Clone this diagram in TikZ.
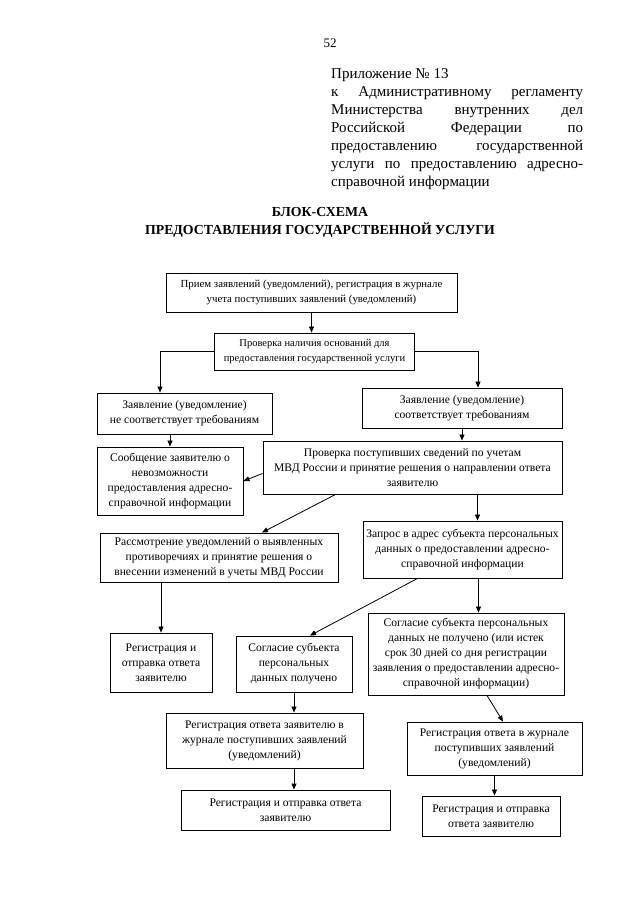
\documentclass[tikz,border=0pt]{standalone}
\usepackage{fontspec}
\setmainfont{Liberation Serif}
\usetikzlibrary{arrows.meta,calc}
\begin{document}
\begin{tikzpicture}[x=1pt,y=-1pt,
  box/.style={draw, line width=0.9pt, align=center, inner sep=1pt,
    font=\fontsize{11.6}{15}\selectfont},
  arr/.style={-{Triangle[length=6pt,width=5pt]}, line width=0.8pt},
  plain/.style={inner sep=0pt}]
\useasboundingbox (0,0) rectangle (640,905);
\fill[white] (0,0) rectangle (640,905);

% page number and header
\node[plain, font=\fontsize{13}{15}\selectfont] (pnum) at (330,43) {52};
\node[plain, anchor=north west, align=left, font=\fontsize{15}{18}\selectfont] (appx) at (331,68)
 {Приложение № 13\\
  \makebox[252pt][s]{к Административному регламенту}\\
  \makebox[252pt][s]{Министерства внутренних дел}\\
  \makebox[252pt][s]{Российской Федерации по}\\
  \makebox[252pt][s]{предоставлению государственной}\\
  \makebox[252pt][s]{услуги по предоставлению адресно-}\\
  справочной информации};
\node[plain, align=center, font=\bfseries\fontsize{13.8}{18}\selectfont] (title) at (320,222)
 {БЛОК-СХЕМА\\ПРЕДОСТАВЛЕНИЯ ГОСУДАРСТВЕННОЙ УСЛУГИ};

% boxes
\node[box, minimum width=291, minimum height=39, font=\fontsize{10.8}{15}\selectfont] (b1) at (311.5,292.5)
 {Прием заявлений (уведомлений), регистрация в журнале\\учета поступивших заявлений (уведомлений)};
\node[box, minimum width=200, minimum height=37, font=\fontsize{10.5}{15}\selectfont] (b2) at (314.5,351.5)
 {Проверка наличия оснований для\\предоставления государственной услуги};
\node[box, minimum width=175, minimum height=41] (b3L) at (184.5,413.5)
 {Заявление (уведомление)\\не соответствует требованиям};
\node[box, minimum width=200, minimum height=40] (b3R) at (462,408)
 {Заявление (уведомление)\\соответствует требованиям};
\node[box, minimum width=146, minimum height=68] (b4L) at (170,481)
 {Сообщение заявителю о\\невозможности\\предоставления адресно-\\справочной информации};
\node[box, minimum width=299, minimum height=53] (b4R) at (412.5,467.5)
 {Проверка поступивших сведений по учетам\\МВД России и принятие решения о направлении ответа\\заявителю};
\node[box, minimum width=238, minimum height=49] (b5L) at (219,557.5)
 {Рассмотрение уведомлений о выявленных\\противоречиях и принятие решения о\\внесении изменений в учеты МВД России};
\node[box, minimum width=199, minimum height=57] (b5R) at (462.5,549.5)
 {Запрос в адрес субъекта персональных\\данных о предоставлении адресно-\\справочной информации};
\node[box, minimum width=102, minimum height=59] (b6a) at (161,662.5)
 {Регистрация и\\отправка ответа\\заявителю};
\node[box, minimum width=116, minimum height=56] (b6b) at (294,664)
 {Согласие субъекта\\персональных\\данных получено};
\node[box, minimum width=196, minimum height=82] (b6c) at (466,654)
 {Согласие субъекта персональных\\данных не получено (или истек\\срок 30 дней со дня регистрации\\заявления о предоставлении адресно-\\справочной информации)};
\node[box, minimum width=197, minimum height=55] (b7L) at (264.5,740.5)
 {Регистрация ответа заявителю в\\журнале поступивших заявлений\\(уведомлений)};
\node[box, minimum width=175, minimum height=53] (b7R) at (494.5,748.5)
 {Регистрация ответа в журнале\\поступивших заявлений\\(уведомлений)};
\node[box, minimum width=209, minimum height=40] (b8L) at (285.5,810)
 {Регистрация и отправка ответа\\заявителю};
\node[box, minimum width=138, minimum height=40] (b8R) at (491,816)
 {Регистрация и отправка\\ответа заявителю};

% helper coordinates
\coordinate (c2L) at ($(b3L.north)+(-24.5,0)$);
\coordinate (c2R) at ($(b3R.north)+(16,0)$);
\coordinate (c45) at ($(b4R.south)+(65,0)$);
\coordinate (c56) at ($(b5R.south)+(16,0)$);

% connectors
\draw[arr] (b1.south) -- (b1.south |- b2.north);
\draw[arr] (b2.west) -| (c2L);
\draw[arr] (b2.east) -| (c2R);
\draw[arr] (b3L.south -| b4L.north) -- (b4L.north);
\draw[arr] (b3R.south) -- (b3R.south |- b4R.north);
\draw[arr] ([yshift=-6pt]b4R.west) -- (b4L.east);
\draw[arr] ([xshift=-77pt]b4R.south) -- ([xshift=43pt]b5L.north);
\draw[arr] (c45) -- (c45 |- b5R.north);
\draw[arr] (b5L.south -| b6a.north) -- (b6a.north);
\draw[arr] ([xshift=-45pt]b5R.south) -- ([xshift=16pt]b6b.north);
\draw[arr] (c56) -- (c56 |- b6c.north);
\draw[arr] (b6b.south) -- (b6b.south |- b7L.north);
\draw[arr] ([xshift=21pt]b6c.south) -- ([xshift=8.5pt]b7R.north);
\draw[arr] (b7L.south -| b6b.south) -- (b8L.north -| b6b.south);
\draw[arr] (b7R.south) -- (b7R.south |- b8R.north);
\end{tikzpicture}
\end{document}
